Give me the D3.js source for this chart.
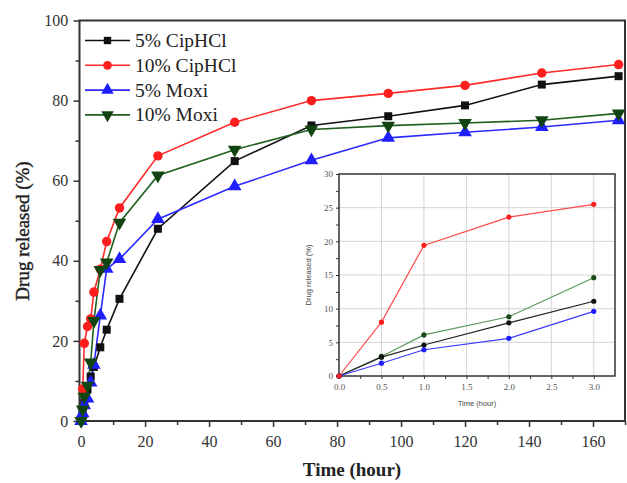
<!DOCTYPE html>
<html><head><meta charset="utf-8">
<script src="https://cdn.jsdelivr.net/npm/d3@7"></script>
<style>body{margin:0;background:#fff}svg{display:block}</style>
</head><body>
<script>
const seriesNames = ["5% CipHCl","10% CipHCl","5% Moxi","10% Moxi"];
const times = [0,0.5,1,2,3,4,6,8,12,24,48,72,96,120,144,168];
const cip5  = [0,2.8,4.6,7.9,11.1,13.5,18.4,22.8,30.5,48,64.9,73.8,76.1,78.8,84,86.1];
const cip10 = [0,8,19.4,23.6,25.5,32.2,37.9,44.8,53.2,66.2,74.6,80,81.8,83.8,86.9,89];
const moxi5 = [0,1.9,3.9,5.6,9.6,14,26.3,38,40.4,50.4,58.6,65.1,70.7,72.1,73.4,75.1];
const moxi10= [0,2.9,6.1,8.8,14.6,25,37.75,39.6,49.5,61.3,67.75,72.8,73.75,74.4,75.1,76.8];
const xTicks = [0,20,40,60,80,100,120,140,160];
const yTicks = [0,20,40,60,80,100];
const insetTimes = [0,0.5,1,2,3];
const insetXTicks = [0,0.5,1,1.5,2,2.5,3];
const insetYTicks = [0,5,10,15,20,25,30];

const W=627,H=483;
const svg=d3.select("body").append("svg").attr("width",W).attr("height",H);
const colors=["#111111","#ff1e1e","#1e1eff","#114411"];
const lineColors=["#111111","#ff2a2a","#2a2aff","#1f5f1f"];
const symbols=[d3.symbolSquare,d3.symbolCircle,d3.symbolTriangle,d3.symbolTriangle];
const symSizes=[64,70,80,80];
const rot=[0,0,0,180];
const allSeries=[cip5,cip10,moxi5,moxi10];

const x=d3.scaleLinear().domain([-0.5,170]).range([79.5,625]);
const y=d3.scaleLinear().domain([0,100]).range([421,20.5]);
const axisCol="#333";
const serif="'Liberation Serif','DejaVu Serif',serif";

// frame
svg.append("rect").attr("x",79.5).attr("y",20.5).attr("width",625-79.5).attr("height",421-20.5)
  .attr("fill","none").attr("stroke",axisCol).attr("stroke-width",2);

// axes
const gx=svg.append("g").attr("transform","translate(0,421)");
gx.call(d3.axisBottom(x).tickValues(d3.range(0,171,10)).tickSize(5).tickFormat(d=>xTicks.includes(d)?d:""));
gx.selectAll(".tick line").attr("y2",d=>d%20===0?6:4).attr("stroke",axisCol).attr("stroke-width",1.5);
gx.select(".domain").remove();
gx.selectAll("text").attr("font-family",serif).attr("font-size",16).attr("fill","#333").attr("dy","1.1em");

const gy=svg.append("g").attr("transform","translate(79.5,0)");
gy.call(d3.axisLeft(y).tickValues(d3.range(0,101,10)).tickSize(5).tickFormat(d=>yTicks.includes(d)?d:""));
gy.selectAll(".tick line").attr("x2",d=>d%20===0?-6:-4).attr("stroke",axisCol).attr("stroke-width",1.5);
gy.select(".domain").remove();
gy.selectAll("text").attr("font-family",serif).attr("font-size",16).attr("fill","#333").attr("dx","-0.2em");

svg.append("text").attr("x",352).attr("y",476).attr("text-anchor","middle")
  .attr("font-family",serif).attr("font-weight","bold").attr("font-size",19).attr("fill","#222").text("Time (hour)");
svg.append("text").attr("transform","translate(29,231) rotate(-90)").attr("text-anchor","middle")
  .attr("font-family",serif).attr("font-weight","normal").attr("stroke","#222").attr("stroke-width",0.4).attr("font-size",19).attr("fill","#222").text("Drug released (%)");

// series
const line=d3.line().x((d,i)=>x(times[i])).y(d=>y(d));
allSeries.forEach((s,k)=>{
  svg.append("path").datum(s).attr("d",line).attr("fill","none").attr("stroke",lineColors[k]).attr("stroke-width",1.6);
});
allSeries.forEach((s,k)=>{
  svg.append("g").selectAll("path").data(s).join("path")
    .attr("d",d3.symbol().type(symbols[k]).size(symSizes[k]))
    .attr("transform",(d,i)=>`translate(${x(times[i])},${y(d)}) rotate(${rot[k]})`)
    .attr("fill",colors[k]);
});

// legend
seriesNames.forEach((n,k)=>{
  const yy=40.5+k*24.8;
  svg.append("line").attr("x1",85).attr("x2",130).attr("y1",yy).attr("y2",yy).attr("stroke",lineColors[k]).attr("stroke-width",1.6);
  svg.append("path").attr("d",d3.symbol().type(symbols[k]).size(symSizes[k]*0.85)()).attr("transform",`translate(107.5,${yy}) rotate(${rot[k]})`).attr("fill",colors[k]);
  svg.append("text").attr("x",135).attr("y",yy+6.5).attr("font-family",serif).attr("font-size",19.5).attr("fill","#222").text(n);
});

// inset
const ix=d3.scaleLinear().domain([0,3.25]).range([339,615]);
const iy=d3.scaleLinear().domain([0,30]).range([376,174]);
const ins=svg.append("g");
ins.append("rect").attr("x",339).attr("y",174).attr("width",615-339).attr("height",376-174).attr("fill","#fff");
ins.selectAll(".gx").data(insetXTicks.slice(1)).join("line").attr("x1",d=>ix(d)).attr("x2",d=>ix(d)).attr("y1",174).attr("y2",376).attr("stroke","#d4d4d4").attr("stroke-width",1);
ins.selectAll(".gy").data(insetYTicks.slice(1,-1)).join("line").attr("y1",d=>iy(d)).attr("y2",d=>iy(d)).attr("x1",339).attr("x2",615).attr("stroke","#d4d4d4").attr("stroke-width",1);
ins.append("rect").attr("x",339).attr("y",174).attr("width",615-339).attr("height",376-174).attr("fill","none").attr("stroke","#333").attr("stroke-width",1.5);
const igx=ins.append("g").attr("transform","translate(0,376)");
igx.call(d3.axisBottom(ix).tickValues(d3.range(0,3.01,0.25)).tickSize(3).tickFormat(d=>(d*2)%1===0?d.toFixed(1):""));
igx.select(".domain").remove();
igx.selectAll(".tick line").attr("stroke","#333");
igx.selectAll("text").attr("font-family",serif).attr("font-size",9).attr("fill","#555").attr("dy","0.9em");
const igy=ins.append("g").attr("transform","translate(339,0)");
igy.call(d3.axisLeft(iy).tickValues(d3.range(0,30.1,2.5)).tickSize(3).tickFormat(d=>d%5===0?d:""));
igy.select(".domain").remove();
igy.selectAll(".tick line").attr("stroke","#333");
igy.selectAll("text").attr("font-family",serif).attr("font-size",9).attr("fill","#555");
ins.append("text").attr("x",477).attr("y",406).attr("text-anchor","middle").attr("font-family","'Liberation Sans',Arial,sans-serif").attr("font-size",7.5).attr("fill","#444").text("Time (hour)");
ins.append("text").attr("transform","translate(311,275) rotate(-90)").attr("text-anchor","middle").attr("font-family","'Liberation Sans',Arial,sans-serif").attr("font-size",7.5).attr("fill","#444").text("Drug released (%)");

const insetCols=["#222222","#ff4a4a","#3a3aff","#5a9a5a"];
const insetDot=["#111","#ff1e1e","#1e1eff","#1a4a1a"];
const iline=d3.line().x((d,i)=>ix(insetTimes[i])).y(d=>iy(d));
[moxi10,cip5,moxi5,cip10].forEach(s=>{
  const k=allSeries.indexOf(s);
  const v=s.slice(0,insetTimes.length);
  ins.append("path").datum(v).attr("d",iline).attr("fill","none").attr("stroke",insetCols[k]).attr("stroke-width",1.2);
  ins.append("g").selectAll("circle").data(v).join("circle").attr("cx",(d,i)=>ix(insetTimes[i])).attr("cy",d=>iy(d)).attr("r",2.6).attr("fill",insetDot[k]);
});
</script>
</body></html>
